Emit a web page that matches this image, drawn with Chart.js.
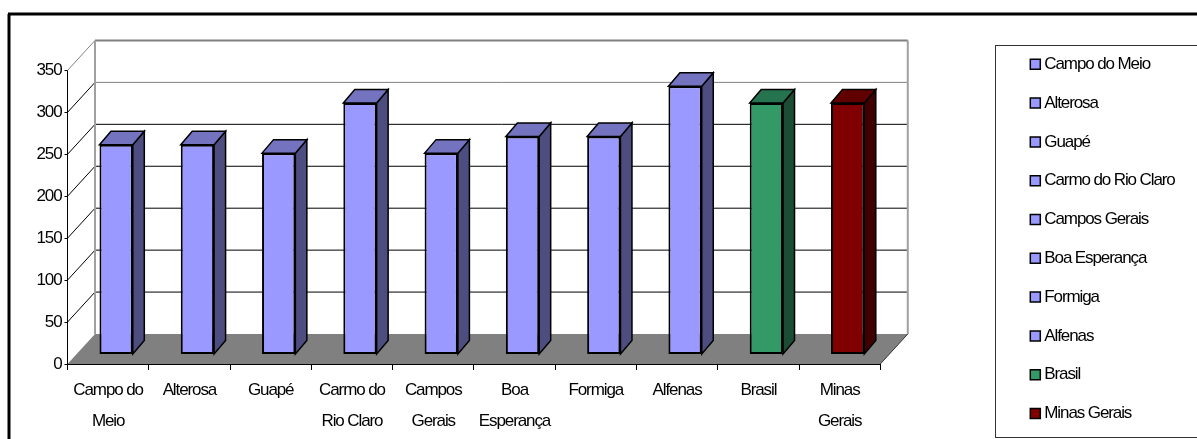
<!DOCTYPE html>
<html lang="pt">
<head>
    <meta charset="UTF-8">
    <title>Grafico</title>
    <script src="https://cdn.jsdelivr.net/npm/chart.js"></script>
    <style>
        html, body { margin: 0; background: #fff; overflow: hidden; }
        canvas { display: block; }
    </style>
</head>
<body>
    <canvas id="grafico" width="1197" height="439"></canvas>

    <script>
        var eixoX = [['Campo do', 'Meio'], 'Alterosa', 'Guapé', ['Carmo do', 'Rio Claro'], ['Campos', 'Gerais'],
            ['Boa', 'Esperança'], 'Formiga', 'Alfenas', 'Brasil', ['Minas', 'Gerais']];
        var nomes = ['Campo do Meio', 'Alterosa', 'Guapé', 'Carmo do Rio Claro', 'Campos Gerais',
            'Boa Esperança', 'Formiga', 'Alfenas', 'Brasil', 'Minas Gerais'];
        var valores = [250, 250, 240, 300, 240, 260, 260, 320, 300, 300];
        var eixoY = [0, 50, 100, 150, 200, 250, 300, 350];

        var frente = ['#9999ff', '#9999ff', '#9999ff', '#9999ff', '#9999ff', '#9999ff', '#9999ff', '#9999ff', '#339966', '#800000'];
        var lado = ['#4d4d80', '#4d4d80', '#4d4d80', '#4d4d80', '#4d4d80', '#4d4d80', '#4d4d80', '#4d4d80', '#1a4d33', '#400000'];
        var topo = ['#7373bf', '#7373bf', '#7373bf', '#7373bf', '#7373bf', '#7373bf', '#7373bf', '#7373bf', '#267350', '#600000'];

        // deslocamentos da perspectiva
        var fundoX = 27.5, fundoY = 30;
        var barraX = 8, profX = 11.5, profY = 13.5;
        var fonte = { family: '"Liberation Sans", Arial, sans-serif', size: 17 };

        function linha(ctx, x1, y1, x2, y2, cor, esp) {
            ctx.strokeStyle = cor;
            ctx.lineWidth = esp;
            ctx.beginPath();
            ctx.moveTo(x1, y1);
            ctx.lineTo(x2, y2);
            ctx.stroke();
        }

        function poligono(ctx, pontos, cor) {
            ctx.fillStyle = cor;
            ctx.strokeStyle = '#000';
            ctx.lineWidth = 1.5;
            ctx.beginPath();
            ctx.moveTo(pontos[0], pontos[1]);
            for (var i = 2; i < pontos.length; i += 2) ctx.lineTo(pontos[i], pontos[i + 1]);
            ctx.closePath();
            ctx.fill();
            ctx.stroke();
        }

        var cena3d = {
            id: 'cena3d',
            beforeLayout: function (chart) {
                // texto estreito como no original
                chart.ctx.letterSpacing = '-1.1px';
            },
            afterLayout: function (chart) {
                // a legenda fica separada do grafico, como no original
                var leg = chart.legend;
                var w = leg.width;
                leg.left = 1013;
                leg.right = leg.left + w;
                leg.top = 34;
                leg.bottom = 450;
            },
            beforeDraw: function (chart) {
                var ctx = chart.ctx;
                ctx.letterSpacing = '-1.1px';
                ctx.save();
                // moldura externa
                linha(ctx, 9, 439, 9, 14, '#000', 3);
                linha(ctx, 8, 14, 1197, 14, '#000', 3);
                // caixa da legenda
                ctx.strokeStyle = '#333';
                ctx.lineWidth = 1;
                ctx.strokeRect(995.5, 45.5, 300, 392);
                ctx.restore();
            },
            beforeDatasetsDraw: function (chart) {
                var ctx = chart.ctx, a = chart.chartArea, y = chart.scales.y;
                ctx.save();
                var dirX = a.right + fundoX, esqX = a.left + fundoX;

                // eixo vertical so ate 350
                linha(ctx, a.left, y.getPixelForValue(0), a.left, y.getPixelForValue(350), '#000', 1);

                eixoY.forEach(function (v) {
                    var py = y.getPixelForValue(v);
                    if (v > 0) {
                        linha(ctx, esqX, py - fundoY, dirX, py - fundoY, v == 350 || v == 300 ? '#808080' : '#000', v == 350 ? 2 : 1);
                        linha(ctx, a.left, py, esqX, py - fundoY, v == 350 ? '#808080' : '#000', 1);
                    }
                });

                // paredes
                var yTopo = y.getPixelForValue(350) - fundoY, yBase = y.getPixelForValue(0);
                linha(ctx, esqX, yTopo, esqX, yBase - fundoY, '#a0a0a0', 2);
                linha(ctx, dirX, yTopo, dirX, yBase - fundoY, '#a0a0a0', 2);

                // piso
                ctx.fillStyle = '#808080';
                ctx.beginPath();
                ctx.moveTo(a.left, yBase);
                ctx.lineTo(esqX, yBase - fundoY);
                ctx.lineTo(dirX, yBase - fundoY);
                ctx.lineTo(a.right, yBase);
                ctx.closePath();
                ctx.fill();
                linha(ctx, a.right, yBase, dirX, yBase - fundoY, '#333', 1);

                ctx.translate(barraX, 0);

                // faces laterais e de cima das barras
                chart.getDatasetMeta(0).data.forEach(function (b, i) {
                    var e = b.x - b.width / 2, d = b.x + b.width / 2;
                    poligono(ctx, [d, b.y, d + profX, b.y - profY, d + profX, b.base - profY, d, b.base], lado[i]);
                    poligono(ctx, [e, b.y, e + profX, b.y - profY, d + profX, b.y - profY, d, b.y], topo[i]);
                });
            },
            afterDatasetsDraw: function (chart) {
                chart.ctx.restore();
            }
        };

        new Chart(document.getElementById('grafico'), {
            type: 'bar',
            data: {
                labels: eixoX,
                datasets: [{
                    data: valores,
                    yAxisID: 'yBarras',
                    backgroundColor: frente,
                    borderColor: '#000',
                    borderWidth: 2,
                    borderSkipped: false,
                    barPercentage: 0.41,
                    categoryPercentage: 1
                }]
            },
            options: {
                responsive: false,
                animation: false,
                layout: { padding: { right: 145 } },
                plugins: {
                    tooltip: { enabled: false },
                    legend: {
                        position: 'right',
                        align: 'start',
                        labels: {
                            font: fonte,
                            color: '#000',
                            usePointStyle: true,
                            pointStyle: 'rect',
                            boxWidth: 1,
                            boxHeight: 10,
                            padding: 21.8,
                            generateLabels: function () {
                                return nomes.map(function (n, i) {
                                    return { text: n, fillStyle: frente[i], strokeStyle: '#000', lineWidth: 1.5, pointStyle: 'rect', index: i };
                                });
                            }
                        }
                    }
                },
                scales: {
                    x: {
                        offset: true,
                        afterFit: function (s) { s.height = 75; },
                        border: { color: '#000' },
                        grid: { drawOnChartArea: false, color: '#000', tickLength: 6, offset: true },
                        ticks: { color: '#000', font: Object.assign({ lineHeight: 1.8 }, fonte), padding: 5, maxRotation: 0, autoSkip: false }
                    },
                    y: {
                        min: 0,
                        max: 434,
                        afterFit: function (s) {
                            s.width = 67.5;
                            s.paddingTop = 0;
                            s.paddingBottom = 0;
                        },
                        afterBuildTicks: function (s) { s.ticks = eixoY.map(function (v) { return { value: v }; }); },
                        border: { display: false },
                        grid: { drawOnChartArea: false, color: '#000', tickLength: 3 },
                        ticks: { color: '#000', font: fonte, padding: 3 }
                    },
                    // plano das barras, um pouco atras do eixo
                    yBarras: { display: false, min: -12, max: 423 }
                }
            },
            plugins: [cena3d]
        });
    </script>
</body>
</html>
